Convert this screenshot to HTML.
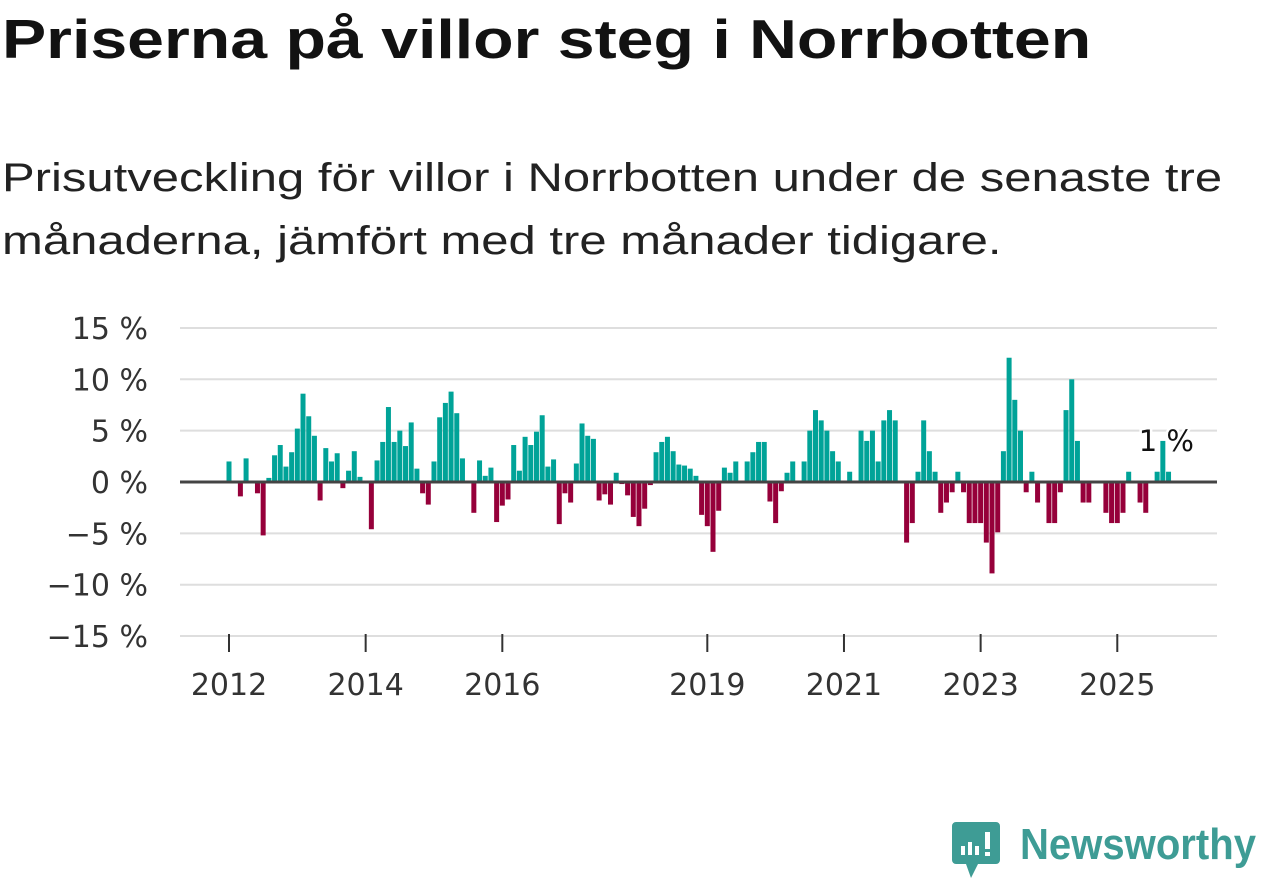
<!DOCTYPE html>
<html><head><meta charset="utf-8">
<style>
html,body{margin:0;padding:0;background:#fff;}
body{width:1262px;height:879px;position:relative;overflow:hidden;font-family:"Liberation Sans","DejaVu Sans",sans-serif;color:#111;}
#title{position:absolute;left:2px;top:7px;font-size:55px;font-weight:bold;margin:0;color:#121212;white-space:nowrap;transform-origin:0 0;transform:scaleX(1.204);}
#subtitle{position:absolute;left:2px;top:147px;font-size:40px;line-height:63px;margin:0;color:#222;white-space:nowrap;transform-origin:0 0;transform:scaleX(1.225);}
svg{position:absolute;left:0;top:0;}
</style></head><body>
<h1 id="title">Priserna på villor steg i Norrbotten</h1>
<p id="subtitle">Prisutveckling för villor i Norrbotten under de senaste tre<br>månaderna, jämfört med tre månader tidigare.</p>
<svg id="chart" width="1262" height="879"></svg>
<script>
const values = [2.0,0,-1.4,2.3,0,-1.1,-5.2,0.4,2.6,3.6,1.5,2.9,5.2,8.6,6.4,4.5,-1.8,3.3,2.0,2.8,-0.6,1.1,3.0,0.5,0,-4.6,2.1,3.9,7.3,3.9,5.0,3.5,5.8,1.3,-1.1,-2.2,2.0,6.3,7.7,8.8,6.7,2.3,0,-3.0,2.1,0.6,1.4,-3.9,-2.3,-1.7,3.6,1.1,4.4,3.6,4.9,6.5,1.5,2.2,-4.1,-1.1,-2.0,1.8,5.7,4.5,4.2,-1.8,-1.2,-2.2,0.9,-0.2,-1.3,-3.4,-4.3,-2.6,-0.3,2.9,3.9,4.4,3.0,1.7,1.6,1.3,0.6,-3.2,-4.3,-6.8,-2.8,
1.4,0.9,2.0,0,2.0,2.9,3.9,3.9,-1.9,-4.0,-0.9,0.9,2.0,0,2.0,5.0,7.0,6.0,5.0,3.0,2.0,0,1.0,0,5.0,4.0,5.0,2.0,6.0,7.0,6.0,0,-5.9,-4.0,1.0,6.0,3.0,1.0,-3.0,-2.0,-1.0,1.0,-1.0,-4.0,-4.0,-4.0,-5.9,-8.9,-4.9,3.0,12.1,8.0,5.0,-1.0,1.0,-2.0,0,-4.0,-4.0,-1.0,7.0,10.0,4.0,-2.0,-2.0,0,0,-3.0,-4.0,-4.0,-3.0,1.0,0,-2.0,-3.0,0,1.0,4.0,1.0];
const startYear = 2012;
const yTicks = [15,10,5,0,-5,-10,-15];
const yTickLabels = ["15 %","10 %","5 %","0 %","\u22125 %","\u221210 %","\u221215 %"];
const xTickYears = [2012,2014,2016,2019,2021,2023,2025];
const lastLabel = "1 %";

const NS="http://www.w3.org/2000/svg";
const svg=document.getElementById('chart');
const y0=482, pxPer=10.27;
const FONT='DejaVu Sans, sans-serif';
const yScale=v=>y0-v*pxPer;
const xScale=m=>229+m*(68.33/12);
function el(t,a){const e=document.createElementNS(NS,t);for(const k in a)e.setAttribute(k,a[k]);svg.appendChild(e);return e;}
yTicks.forEach((t,i)=>{
  if(t!==0){const g=el('line',{x1:180,x2:1217,y1:yScale(t),y2:yScale(t),stroke:'#dedede','stroke-width':2});
  
  }
  const tx=el('text',{x:148,y:yScale(t)+11,'text-anchor':'end','font-size':30,fill:'#333','font-family':FONT});
  tx.textContent=yTickLabels[i];
  
  
});
values.forEach((v,i)=>{
  if(v===0)return;
  const x=xScale(i)-2.5;
  const r=el('rect',{x:x,width:5,y:Math.min(yScale(v),y0),height:Math.abs(yScale(v)-y0),fill:v>0?'#00a398':'#96003a'});
  
  
});
const zl=el('line',{x1:180,x2:1217,y1:y0,y2:y0,stroke:'#444','stroke-width':3});


xTickYears.forEach(yr=>{
  const x=xScale((yr-startYear)*12);
  const tk=el('line',{x1:x,x2:x,y1:634,y2:652,stroke:'#333','stroke-width':2});
  
  
  const t=el('text',{x:x,y:695,'text-anchor':'middle','font-size':30,fill:'#333','font-family':FONT});
  t.textContent=yr;
  
  
});
const ll=el('text',{x:1194,y:451,'text-anchor':'end','font-size':29,fill:'#111',stroke:'#fff','stroke-width':5,'paint-order':'stroke','font-family':FONT});
ll.textContent=lastLabel;


</script>
<svg width="1262" height="879" style="pointer-events:none">
  <path d="M956 822 h40 a4 4 0 0 1 4 4 v34 a4 4 0 0 1 -4 4 h-18 l-7 14 l-5 -14 h-10 a4 4 0 0 1 -4 -4 v-34 a4 4 0 0 1 4 -4z" fill="#3e9c95"/>
  <rect x="961" y="846" width="4" height="9" fill="#fff"/>
  <rect x="968" y="842" width="4" height="13" fill="#fff"/>
  <rect x="975" y="846" width="4" height="9" fill="#fff"/>
  <rect x="985" y="832" width="5" height="17" fill="#fff"/>
  <rect x="985" y="852" width="5" height="4" fill="#fff"/>
  <text x="1020" y="859" font-size="44" font-weight="bold" fill="#3e9c95" font-family="Liberation Sans, sans-serif" textLength="236" lengthAdjust="spacingAndGlyphs">Newsworthy</text>
</svg>
</body></html>
